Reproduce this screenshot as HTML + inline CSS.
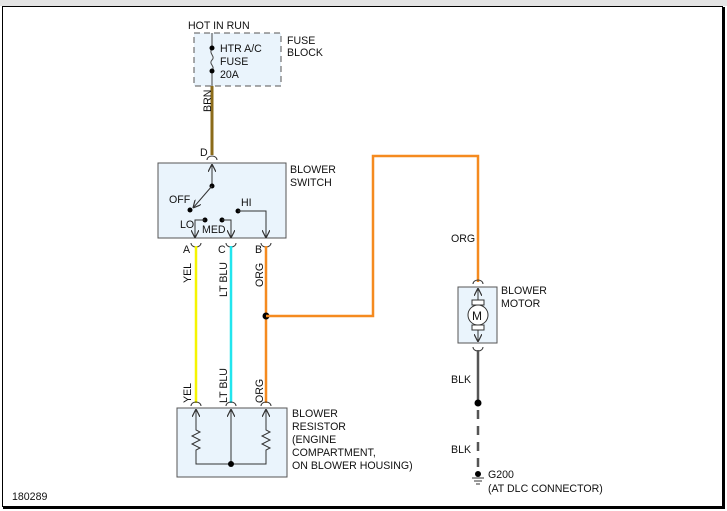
<!DOCTYPE html>
<html><head><meta charset="utf-8"><style>
html,body{margin:0;padding:0;background:#fff;}
svg{display:block;}
text{font-family:"Liberation Sans",sans-serif;font-size:10.6px;fill:#111;}
</style></head><body>
<svg width="727" height="511" viewBox="0 0 727 511" xmlns="http://www.w3.org/2000/svg">
<defs>
<marker id="ar" viewBox="0 0 10 10" refX="10" refY="5" markerWidth="8" markerHeight="8" orient="auto" markerUnits="userSpaceOnUse">
<path d="M0,0 L10,5 L0,10" fill="none" stroke="#333" stroke-width="1.5"/></marker>
</defs>
<rect x="0" y="0" width="727" height="6" fill="#e4e4e4"/>
<rect x="2.5" y="6.5" width="720" height="500" fill="#fff" stroke="#000" stroke-width="1"/>
<line x1="724" y1="7" x2="724" y2="508" stroke="#000" stroke-width="2"/>
<line x1="3" y1="508" x2="725" y2="508" stroke="#000" stroke-width="2"/>

<rect x="194" y="33" width="87" height="53" fill="#eaf4fc" stroke="#555" stroke-dasharray="6,4"/>
<text x="188" y="29">HOT IN RUN</text>
<line x1="212" y1="33" x2="212" y2="48" stroke="#444"/>
<path d="M212,48 C208,54 216,56 212,60 C208,64 216,66 212,71" fill="none" stroke="#444"/>
<line x1="212" y1="71" x2="212" y2="86" stroke="#444"/>
<circle cx="212" cy="48" r="2.5" fill="#000"/><circle cx="212" cy="71" r="2.5" fill="#000"/>
<text x="220" y="52">HTR A/C</text><text x="220" y="65">FUSE</text><text x="220" y="78">20A</text>
<text x="287" y="44">FUSE</text><text x="287" y="56">BLOCK</text>
<line x1="212" y1="86" x2="212" y2="155" stroke="#8b6b1a" stroke-width="3"/>
<text transform="translate(211,112) rotate(-90)">BRN</text>
<text x="200" y="156">D</text>
<path d="M207,160 A5,4 0 0 1 217,160" fill="none" stroke="#333"/>

<rect x="158" y="163" width="128" height="75" fill="#eaf4fc" stroke="#555"/>
<text x="290" y="173">BLOWER</text><text x="290" y="186">SWITCH</text>
<line x1="212" y1="186" x2="212" y2="164" stroke="#333" marker-end="url(#ar)"/>
<circle cx="212" cy="186" r="2.5" fill="#000"/>
<line x1="212" y1="186" x2="193" y2="208" stroke="#333" marker-end="url(#ar)"/>
<circle cx="190" cy="210" r="2.5" fill="#000"/>
<text x="169" y="203">OFF</text>
<circle cx="238" cy="211" r="2.5" fill="#000"/>
<text x="241" y="206">HI</text>
<polyline points="238,211 266,211 266,238" fill="none" stroke="#333" marker-end="url(#ar)"/>
<text x="180" y="228">LO</text>
<circle cx="205" cy="220" r="2.5" fill="#000"/>
<polyline points="205,220 195,220 195,238" fill="none" stroke="#333" marker-end="url(#ar)"/>
<circle cx="222" cy="220" r="2.5" fill="#000"/>
<polyline points="222,220 231,220 231,238" fill="none" stroke="#333" marker-end="url(#ar)"/>
<text x="202" y="233">MED</text>

<text x="183" y="253">A</text><text x="218" y="253">C</text><text x="255" y="253">B</text>
<path d="M191,243 A5,4 0 0 0 201,243" fill="none" stroke="#333"/>
<path d="M226,243 A5,4 0 0 0 236,243" fill="none" stroke="#333"/>
<path d="M261,243 A5,4 0 0 0 271,243" fill="none" stroke="#333"/>

<line x1="196" y1="246" x2="196" y2="403" stroke="#f5f500" stroke-width="2.5"/>
<line x1="231" y1="246" x2="231" y2="403" stroke="#22e5ee" stroke-width="2.5"/>
<line x1="266" y1="246" x2="266" y2="403" stroke="#f58a1f" stroke-width="2.5"/>
<text transform="translate(191,283) rotate(-90)">YEL</text>
<text transform="translate(227,297) rotate(-90)">LT BLU</text>
<text transform="translate(263,287) rotate(-90)">ORG</text>
<circle cx="266" cy="316" r="3.5" fill="#000"/>
<polyline points="266,316 373,316 373,156 478,156 478,282" fill="none" stroke="#f58a1f" stroke-width="2.5"/>
<text x="451" y="242">ORG</text>

<text transform="translate(191,403) rotate(-90)">YEL</text>
<text transform="translate(227,403) rotate(-90)">LT BLU</text>
<text transform="translate(263,403) rotate(-90)">ORG</text>
<path d="M191,406 A5,4 0 0 1 201,406" fill="none" stroke="#333"/>
<path d="M226,406 A5,4 0 0 1 236,406" fill="none" stroke="#333"/>
<path d="M261,406 A5,4 0 0 1 271,406" fill="none" stroke="#333"/>
<rect x="177" y="408" width="110" height="69" fill="#eaf4fc" stroke="#555"/>
<line x1="196" y1="428" x2="196" y2="409" stroke="#333" marker-end="url(#ar)"/>
<line x1="231" y1="464" x2="231" y2="409" stroke="#333" marker-end="url(#ar)"/>
<line x1="266" y1="428" x2="266" y2="409" stroke="#333" marker-end="url(#ar)"/>
<polyline points="196,428 196,430 200,432 192,436 200,440 192,444 200,448 196,450 196,464 266,464 266,450 270,448 262,444 270,440 262,436 270,432 266,430 266,428" fill="none" stroke="#333"/>
<circle cx="231" cy="464" r="3" fill="#000"/>
<text x="292" y="417">BLOWER</text><text x="292" y="430">RESISTOR</text>
<text x="292" y="443">(ENGINE</text><text x="292" y="456">COMPARTMENT,</text>
<text x="292" y="469">ON BLOWER HOUSING)</text>

<path d="M473,284 A5,4 0 0 1 483,284" fill="none" stroke="#333"/>
<rect x="458" y="287" width="39" height="56" fill="#eaf4fc" stroke="#555"/>
<line x1="478" y1="300" x2="478" y2="288" stroke="#333" marker-end="url(#ar)"/>
<line x1="478" y1="330" x2="478" y2="342" stroke="#333" marker-end="url(#ar)"/>
<rect x="472" y="300" width="12" height="5" fill="#fff" stroke="#333"/>
<rect x="472" y="325" width="12" height="5" fill="#fff" stroke="#333"/>
<circle cx="478" cy="315" r="10" fill="#fff" stroke="#333"/>
<text x="472" y="320" style="font-size:12px">M</text>
<text x="501" y="294">BLOWER</text><text x="501" y="307">MOTOR</text>
<path d="M473,347 A5,4 0 0 0 483,347" fill="none" stroke="#333"/>
<line x1="478" y1="350" x2="478" y2="403" stroke="#555" stroke-width="2.5"/>
<circle cx="478" cy="403" r="3.5" fill="#000"/>
<line x1="478" y1="410" x2="478" y2="472" stroke="#555" stroke-width="2.5" stroke-dasharray="9,7"/>
<text x="451" y="383">BLK</text><text x="451" y="453">BLK</text>
<circle cx="478" cy="474" r="3" fill="#000"/>
<line x1="472" y1="478" x2="484" y2="478" stroke="#333"/>
<line x1="474" y1="481" x2="482" y2="481" stroke="#333"/>
<line x1="476" y1="484" x2="480" y2="484" stroke="#333"/>
<text x="488" y="478">G200</text>
<text x="488" y="492">(AT DLC CONNECTOR)</text>
<text x="12" y="500">180289</text>
</svg>
</body></html>
